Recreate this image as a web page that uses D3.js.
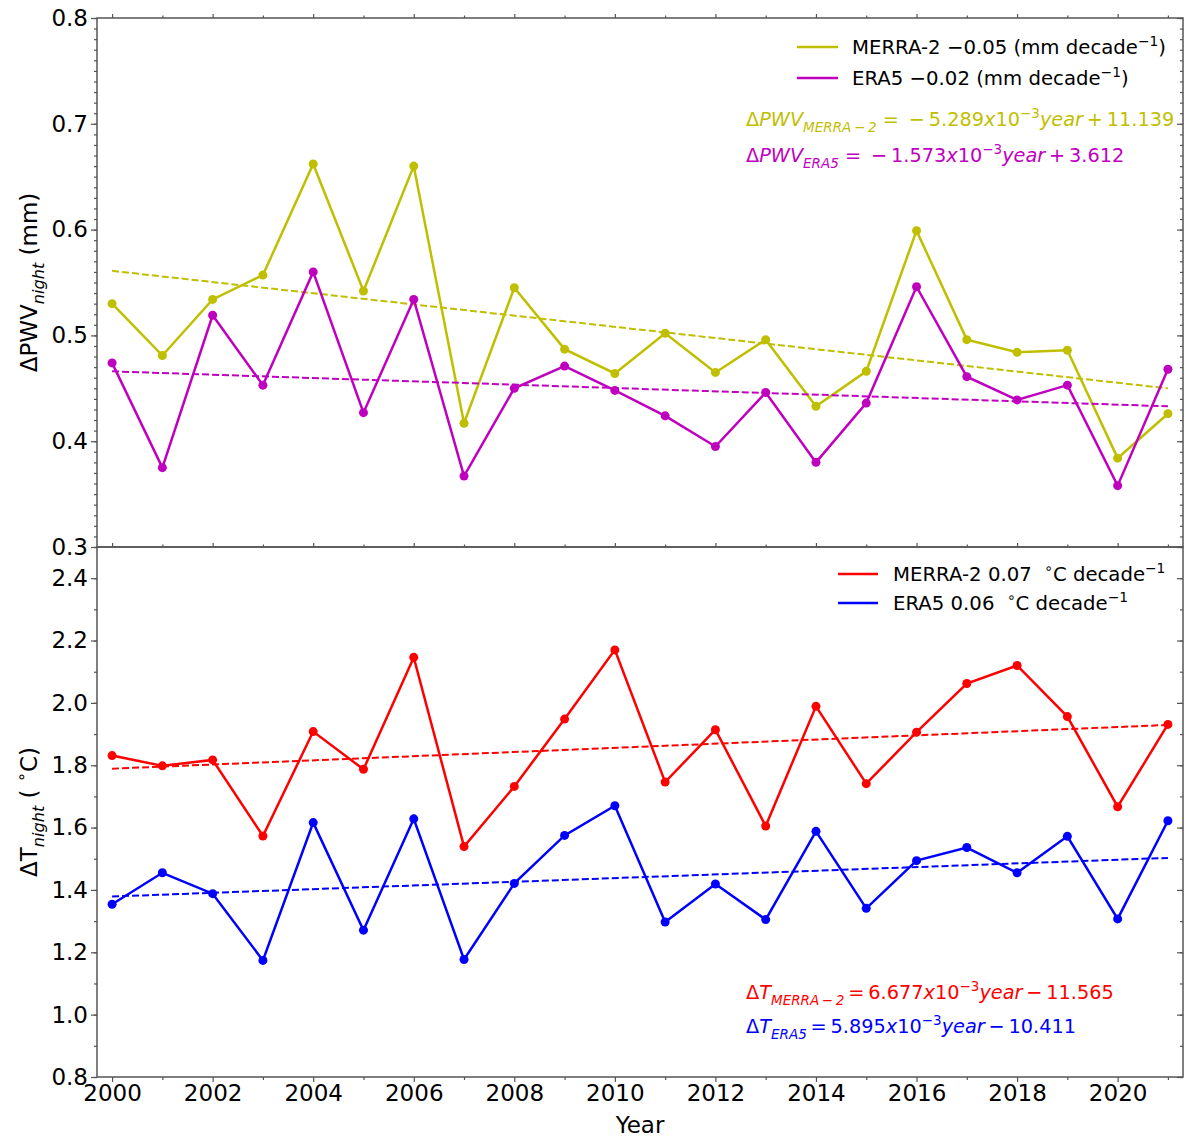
<!DOCTYPE html>
<html>
<head>
<meta charset="utf-8">
<script src="https://cdn.jsdelivr.net/npm/d3@7"></script>
<style>
  body { margin: 0; background: #fff; }
  svg { font-family: "DejaVu Sans", sans-serif; }
</style>
</head>
<body>
<svg id="chart"></svg>
<script>
// Data
const years = [2000, 2001, 2002, 2003, 2004, 2005, 2006, 2007, 2008, 2009, 2010,
               2011, 2012, 2013, 2014, 2015, 2016, 2017, 2018, 2019, 2020, 2021];

const pwvMerra = [0.530, 0.481, 0.534, 0.557, 0.662, 0.542, 0.660, 0.417, 0.545, 0.487, 0.464,
                  0.502, 0.465, 0.496, 0.433, 0.466, 0.599, 0.496, 0.484, 0.486, 0.384, 0.426];
const pwvEra5  = [0.474, 0.375, 0.519, 0.453, 0.560, 0.427, 0.534, 0.367, 0.450, 0.471, 0.448,
                  0.424, 0.395, 0.446, 0.380, 0.436, 0.546, 0.461, 0.439, 0.453, 0.358, 0.468];

const tMerra = [1.831, 1.798, 1.817, 1.573, 1.908, 1.787, 2.146, 1.539, 1.732, 1.948, 2.170,
                1.746, 1.914, 1.605, 1.989, 1.741, 1.906, 2.062, 2.120, 1.956, 1.667, 1.931];
const tEra5  = [1.354, 1.455, 1.388, 1.174, 1.616, 1.271, 1.628, 1.177, 1.421, 1.575, 1.670,
                1.297, 1.419, 1.305, 1.588, 1.341, 1.494, 1.536, 1.455, 1.572, 1.307, 1.622];

// linear fits [slope, intercept] as printed on the figure
const pwvMerraFit = [-5.289e-3, 11.139];
const pwvEra5Fit  = [-1.573e-3, 3.612];
const tMerraFit   = [6.677e-3, -11.565];
const tEra5Fit    = [5.895e-3, -10.411];

const pwvTicks = [0.3, 0.4, 0.5, 0.6, 0.7, 0.8];
const tTicks = [0.8, 1.0, 1.2, 1.4, 1.6, 1.8, 2.0, 2.2, 2.4];
const yearTicks = [2000, 2002, 2004, 2006, 2008, 2010, 2012, 2014, 2016, 2018, 2020];

// Layout
const width = 1200, height = 1144;
const pLeft = 97, pRight = 1183, pTop = 18, pMid = 547, pBottom = 1077;
const axisColor = "#555";
const col = { merra: "#bfbf00", era5: "#bf00bf", tMerra: "#ff0000", tEra5: "#0000ff" };

const svg = d3.select("#chart").attr("width", width).attr("height", height);

const x = d3.scaleLinear().domain([1999.7, 2021.3]).range([pLeft, pRight]);
const yTop = d3.scaleLinear().domain([0.3, 0.8]).range([pMid, pTop]);
const yBot = d3.scaleLinear().domain([0.8, 2.5]).range([pBottom, pMid]);

const minorYears = years.filter(d => d % 2 === 1);

function styleAxis(g) {
    g.select(".domain").remove();
    g.selectAll(".tick line").attr("stroke", axisColor).attr("stroke-width", 1.2);
    g.selectAll(".tick text").attr("fill", "#000").style("font-size", "23px")
        .attr("font-family", "DejaVu Sans");
}

// Draw one panel's axes and frame
function drawFrame(yScale, y0, y1, majors, minors, fmt) {
    // left axis, outward ticks
    svg.append("g").attr("transform", `translate(${pLeft},0)`)
        .call(d3.axisLeft(yScale).tickValues(minors).tickSize(3).tickFormat(""))
        .call(styleAxis);
    svg.append("g").attr("transform", `translate(${pLeft},0)`)
        .call(d3.axisLeft(yScale).tickValues(majors).tickSize(6).tickPadding(3).tickFormat(fmt))
        .call(styleAxis);
    // right axis, inward ticks
    svg.append("g").attr("transform", `translate(${pRight},0)`)
        .call(d3.axisRight(yScale).tickValues(minors).tickSize(-3).tickFormat(""))
        .call(styleAxis);
    svg.append("g").attr("transform", `translate(${pRight},0)`)
        .call(d3.axisRight(yScale).tickValues(majors).tickSize(-6).tickFormat(""))
        .call(styleAxis);

    svg.append("rect")
        .attr("x", pLeft).attr("y", y1)
        .attr("width", pRight - pLeft).attr("height", y0 - y1)
        .attr("fill", "none").attr("stroke", axisColor).attr("stroke-width", 1.5);
}

// Top panel frame + x ticks (no labels)
drawFrame(yTop, pMid, pTop, pwvTicks, d3.range(30, 81).map(d => d / 100), d3.format(".1f"));
svg.append("g").attr("transform", `translate(0,${pTop})`)
    .call(d3.axisTop(x).tickValues(yearTicks).tickSize(4).tickFormat("")).call(styleAxis);
svg.append("g").attr("transform", `translate(0,${pTop})`)
    .call(d3.axisTop(x).tickValues(minorYears).tickSize(2.5).tickFormat("")).call(styleAxis);
svg.append("g").attr("transform", `translate(0,${pMid})`)
    .call(d3.axisBottom(x).tickValues(yearTicks).tickSize(-4).tickFormat("")).call(styleAxis);
svg.append("g").attr("transform", `translate(0,${pMid})`)
    .call(d3.axisBottom(x).tickValues(minorYears).tickSize(-2.5).tickFormat("")).call(styleAxis);

// Bottom panel frame + x axis
drawFrame(yBot, pBottom, pMid, tTicks, d3.range(8, 26).map(d => d / 10), d3.format(".1f"));
svg.append("g").attr("transform", `translate(0,${pBottom})`)
    .call(d3.axisBottom(x).tickValues(minorYears).tickSize(3).tickFormat("")).call(styleAxis);
svg.append("g").attr("transform", `translate(0,${pBottom})`)
    .call(d3.axisBottom(x).tickValues(yearTicks).tickSize(5).tickPadding(3).tickFormat(d3.format("d")))
    .call(styleAxis);

// Rich text helper for mathtext-like sub/superscripts
function richText(parent, px, py, parts, fs, color, anchor) {
    const t = parent.append("text")
        .attr("x", px).attr("y", py)
        .attr("fill", color)
        .attr("text-anchor", anchor || "start")
        .style("font-size", fs + "px")
        .attr("xml:space", "preserve");
    let shift = 0;
    parts.forEach(p => {
        const target = p.sub ? 0.3 * fs : p.sup ? -0.42 * fs : 0;
        const ts = t.append("tspan").attr("dy", target - shift).text(p.t);
        shift = target;
        if (p.sub || p.sup) ts.style("font-size", (fs * 0.7) + "px");
        if (p.it) ts.attr("font-style", "italic");
    });
    return t;
}

// Series
function drawSeries(yScale, values, fit, color) {
    const line = d3.line().x((d, i) => x(years[i])).y(d => yScale(d));
    const ends = [years[0], years[years.length - 1]];
    svg.append("path")
        .datum(ends)
        .attr("fill", "none")
        .attr("stroke", color)
        .attr("stroke-width", 2)
        .attr("stroke-dasharray", "7,3")
        .attr("d", d3.line().x(d => x(d)).y(d => yScale(fit[0] * d + fit[1])));
    svg.append("path")
        .datum(values)
        .attr("fill", "none")
        .attr("stroke", color)
        .attr("stroke-width", 2.5)
        .attr("d", line);
    svg.append("g").selectAll("circle")
        .data(values)
        .enter().append("circle")
        .attr("cx", (d, i) => x(years[i]))
        .attr("cy", d => yScale(d))
        .attr("r", 4.5)
        .attr("fill", color);
}

drawSeries(yTop, pwvMerra, pwvMerraFit, col.merra);
drawSeries(yTop, pwvEra5, pwvEra5Fit, col.era5);
drawSeries(yBot, tMerra, tMerraFit, col.tMerra);
drawSeries(yBot, tEra5, tEra5Fit, col.tEra5);

// Legends
function legendRow(lx0, lx1, tx, ty, color, parts) {
    svg.append("line")
        .attr("x1", lx0).attr("x2", lx1).attr("y1", ty).attr("y2", ty)
        .attr("stroke", color).attr("stroke-width", 2.5);
    richText(svg, tx, ty + 7, parts, 19.7, "#000");
}
legendRow(797, 838, 852, 47, col.merra,
    [{ t: "MERRA-2 \u22120.05 (mm decade" }, { t: "\u22121", sup: true }, { t: ")" }]);
legendRow(797, 838, 852, 78, col.era5,
    [{ t: "ERA5 \u22120.02 (mm decade" }, { t: "\u22121", sup: true }, { t: ")" }]);
legendRow(838, 878, 893, 574, col.tMerra,
    [{ t: "MERRA-2 0.07  " }, { t: "\u2218", sup: true }, { t: "C decade" }, { t: "\u22121", sup: true }]);
legendRow(838, 878, 893, 603, col.tEra5,
    [{ t: "ERA5 0.06  " }, { t: "\u2218", sup: true }, { t: "C decade" }, { t: "\u22121", sup: true }]);

// Fit equations
const eqSize = 19.3;
richText(svg, 746, 126, [
    { t: "\u0394" }, { t: "PWV", it: true }, { t: "MERRA\u2009\u2212\u20092", it: true, sub: true },
    { t: " = \u2009\u2212\u20095.289" }, { t: "x", it: true }, { t: "10" }, { t: "\u22123", sup: true },
    { t: "year", it: true }, { t: "\u2009+\u200911.139" }], eqSize, col.merra);
richText(svg, 746, 162, [
    { t: "\u0394" }, { t: "PWV", it: true }, { t: "ERA5", it: true, sub: true },
    { t: " = \u2009\u2212\u20091.573" }, { t: "x", it: true }, { t: "10" }, { t: "\u22123", sup: true },
    { t: "year", it: true }, { t: "\u2009+\u20093.612" }], eqSize, col.era5);
richText(svg, 746, 999, [
    { t: "\u0394" }, { t: "T", it: true }, { t: "MERRA\u2009\u2212\u20092", it: true, sub: true },
    { t: "\u2009=\u20096.677" }, { t: "x", it: true }, { t: "10" }, { t: "\u22123", sup: true },
    { t: "year", it: true }, { t: "\u2009\u2212\u200911.565" }], eqSize, col.tMerra);
richText(svg, 746, 1033, [
    { t: "\u0394" }, { t: "T", it: true }, { t: "ERA5", it: true, sub: true },
    { t: "\u2009=\u20095.895" }, { t: "x", it: true }, { t: "10" }, { t: "\u22123", sup: true },
    { t: "year", it: true }, { t: "\u2009\u2212\u200910.411" }], eqSize, col.tEra5);

// Axis titles
richText(svg, 640, 1133, [{ t: "Year" }], 23, "#000", "middle");

const yl1 = svg.append("g").attr("transform", `translate(37,${(pTop + pMid) / 2}) rotate(-90)`);
richText(yl1, 0, 0, [{ t: "\u0394PWV" }, { t: "night", it: true, sub: true }, { t: " (mm)" }], 23, "#000", "middle");

const yl2 = svg.append("g").attr("transform", `translate(37,${(pMid + pBottom) / 2}) rotate(-90)`);
richText(yl2, 0, 0, [{ t: "\u0394T" }, { t: "night", it: true, sub: true }, { t: " ( " },
    { t: "\u2218", sup: true }, { t: "C)" }], 23, "#000", "middle");
</script>
</body>
</html>
